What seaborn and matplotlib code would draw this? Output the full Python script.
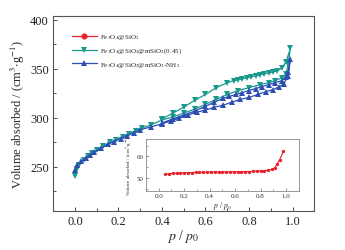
import numpy as np
import pandas as pd
import seaborn as sns
import matplotlib
matplotlib.use('Agg')
import matplotlib.pyplot as plt
from matplotlib.ticker import MultipleLocator

# Fe3O4@SiO2 (inset)
red_p = [0.05, 0.08, 0.11, 0.14, 0.17, 0.20, 0.23, 0.26, 0.29, 0.32, 0.35, 0.38,
         0.41, 0.44, 0.47, 0.50, 0.53, 0.56, 0.59, 0.62, 0.65, 0.68, 0.71, 0.74,
         0.77, 0.80, 0.83, 0.86, 0.89, 0.91, 0.93, 0.95, 0.98]
red_v = [51.8, 52.0, 52.1, 52.2, 52.3, 52.4, 52.5, 52.5, 52.6, 52.6, 52.7, 52.7,
         52.8, 52.8, 52.8, 52.8, 52.8, 52.9, 52.9, 52.9, 52.9, 53.0, 53.0, 53.1,
         53.2, 53.3, 53.4, 53.6, 54.0, 54.6, 56.5, 58.5, 62.5]

# Fe3O4@SiO2@mSiO2(0.45): adsorption then desorption
green_p = [0.0, 0.01, 0.02, 0.04, 0.06, 0.08, 0.10, 0.13, 0.16, 0.19, 0.22, 0.25,
           0.28, 0.31, 0.35, 0.40, 0.45, 0.50, 0.55, 0.60, 0.65, 0.70, 0.75, 0.80,
           0.85, 0.89, 0.92, 0.95, 0.97, 0.98, 0.99,
           0.97, 0.95, 0.93, 0.91, 0.89, 0.87, 0.85, 0.83, 0.81, 0.79, 0.77, 0.75,
           0.73, 0.70, 0.65, 0.60, 0.55, 0.50, 0.45, 0.40]
green_v = [241, 248, 252, 257, 261, 264, 267, 271, 275, 278, 281, 284,
           287, 290, 293, 298, 301, 305, 309, 314, 319, 324, 328, 331,
           334, 336, 338, 341, 345, 355, 371,
           357, 351, 348, 347, 346, 345, 344, 343, 342, 341, 340, 339,
           338, 336, 331, 324, 318, 311, 305, 299]

# Fe3O4@SiO2@mSiO2-NH2: adsorption then desorption
blue_p = [0.0, 0.01, 0.03, 0.05, 0.07, 0.09, 0.12, 0.15, 0.18, 0.21, 0.24, 0.27,
          0.30, 0.35, 0.40, 0.44, 0.48, 0.52, 0.56, 0.60, 0.64, 0.68, 0.72, 0.76,
          0.80, 0.84, 0.88, 0.91, 0.94, 0.96, 0.98, 0.99,
          0.98, 0.97, 0.95, 0.92, 0.89, 0.86, 0.83, 0.80, 0.77, 0.74, 0.71, 0.68,
          0.64, 0.60, 0.55, 0.50, 0.45, 0.40]
blue_v = [247, 252, 256, 259, 262, 265, 269, 273, 276, 279, 282, 285,
          288, 291, 294, 297, 300, 303, 306, 308, 311, 313, 316, 319,
          321, 324, 327, 329, 332, 335, 343, 360,
          347, 342, 338, 336, 334, 332, 330, 328, 326, 324, 322, 320,
          316, 312, 307, 303, 299, 295]

labels = [r'Fe$_3$O$_4$@SiO$_2$',
          r'Fe$_3$O$_4$@SiO$_2$@mSiO$_2$(0.45)',
          r'Fe$_3$O$_4$@SiO$_2$@mSiO$_2$-NH$_2$']
colors = ['#e8202a', '#18998c', '#2d4fb3']
markers = ['o', 'v', '^']
xticks = ['0.0', '0.2', '0.4', '0.6', '0.8', '1.0']

sns.set_theme(style='ticks')
plt.rcParams['font.family'] = ['Liberation Serif', 'DejaVu Serif']
plt.rcParams['mathtext.fontset'] = 'stix'

fig = plt.figure(figsize=(3.45, 2.51), dpi=100)
ax = fig.add_axes([0.154, 0.155, 0.757, 0.777])

series = [(red_p, red_v), (green_p, green_v), (blue_p, blue_v)]
for i, (px, vy) in enumerate(series):
    df = pd.DataFrame({'p': px, 'v': vy})
    if i == 0:
        # red series only shows up in the inset, keep its legend entry here
        ax.plot([], [], color=colors[i], marker=markers[i], ms=3.4, lw=0.9, label=labels[i])
        continue
    sns.lineplot(data=df, x='p', y='v', sort=False, estimator=None, ax=ax,
                 color=colors[i], marker=markers[i], markersize=3.8,
                 markeredgewidth=0, linewidth=0.9, label=labels[i])

ax.set_xlim(-0.1, 1.1)
ax.set_ylim(205, 404)
ax.set_xticks(np.arange(0, 1.01, 0.2))
ax.set_xticklabels(xticks)
ax.xaxis.set_minor_locator(MultipleLocator(0.1))
ax.yaxis.set_major_locator(MultipleLocator(50))
ax.yaxis.set_minor_locator(MultipleLocator(25))
ax.tick_params(which='both', direction='in', labelsize=9, colors='#333333',
               labelcolor='#222222', width=0.6, pad=3)
ax.tick_params(which='major', length=3)
ax.tick_params(which='minor', length=2)
for s in ax.spines.values():
    s.set_color('#555555')
    s.set_linewidth(0.8)
ax.set_xlabel(r'$p$ / $p_0$', fontsize=10, labelpad=0)
ax.set_ylabel(r'Volume absorbed / (cm$^3$$\cdot$g$^{-1}$)', fontsize=9, labelpad=2)
ax.legend(loc='upper left', bbox_to_anchor=(0.06, 0.93), frameon=False, fontsize=5,
          handlelength=3.6, handletextpad=0.5, labelspacing=0.6, borderaxespad=0)

# inset
axi = fig.add_axes([0.423, 0.235, 0.443, 0.207])
dfr = pd.DataFrame({'p': red_p, 'v': red_v})
sns.lineplot(data=dfr, x='p', y='v', sort=False, estimator=None, ax=axi,
             color=colors[0], marker=markers[0], markersize=2.4,
             markeredgewidth=0, linewidth=0.8)
axi.set_xlim(-0.1, 1.1)
axi.set_ylim(44, 68)
axi.set_xticks(np.arange(0, 1.01, 0.2))
axi.set_xticklabels(xticks)
axi.xaxis.set_minor_locator(MultipleLocator(0.1))
axi.set_yticks([50, 60])
axi.yaxis.set_minor_locator(MultipleLocator(5))
axi.tick_params(which='both', direction='in', labelsize=5, pad=1.5, width=0.4,
                labelcolor='#333333', colors='#555555')
axi.tick_params(which='major', length=2)
axi.tick_params(which='minor', length=1.2)
for s in axi.spines.values():
    s.set_color('#888888')
    s.set_linewidth(0.6)
axi.set_xlabel(r'$p$ / $p_0$', fontsize=5.5, labelpad=0.5)
axi.set_ylabel(r'Volume absorbed / (cm$^3$$\cdot$g$^{-1}$)', fontsize=3.6, labelpad=1)

fig.savefig('out.png', dpi=100)
